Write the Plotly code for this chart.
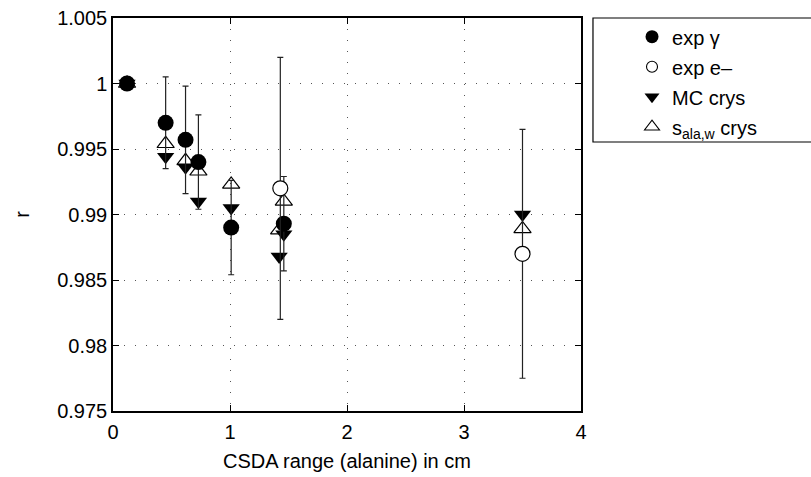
import plotly.graph_objects as go

# ---- data ----
x_gamma = [0.12, 0.45, 0.62, 0.73, 1.01, 1.46]
r_gamma = [1.0, 0.9970, 0.9957, 0.9940, 0.9890, 0.9893]
err_gamma = [0.0, 0.0035, 0.0041, 0.0036, 0.0036, 0.0036]

x_elec = [1.43, 3.50]
r_elec = [0.9920, 0.9870]
err_elec = [0.0100, 0.0095]

x_sim = [0.12, 0.45, 0.62, 0.73, 1.01, 1.42, 1.46, 3.50]
r_mc = [1.0, 0.9944, 0.9936, 0.9910, 0.9905, 0.9868, 0.9885, 0.9900]
r_sala = [1.0, 0.9954, 0.9941, 0.9933, 0.9923, 0.9888, 0.9910, 0.9889]

y_ticks = [0.975, 0.98, 0.985, 0.99, 0.995, 1.0, 1.005]
y_ticktext = ["0.975", "0.98", "0.985", "0.99", "0.995", "1", "1.005"]
x_ticks = [0, 1, 2, 3, 4]

names = ["exp γ", "exp e–", "MC crys", "s<sub>ala,w</sub> crys"]

FONT = "Liberation Sans, Arial, Helvetica, sans-serif"
FS = 20

fig = go.Figure()

fig.add_trace(go.Scatter(
    x=x_sim, y=r_sala, mode="markers", name=names[3], showlegend=False,
    marker=dict(symbol="triangle-up-open", size=15, color="black",
                line=dict(width=1.2, color="black")),
))
fig.add_trace(go.Scatter(
    x=x_sim, y=r_mc, mode="markers", name=names[2], showlegend=False,
    marker=dict(symbol="triangle-down", size=15, color="black",
                line=dict(width=0)),
))
fig.add_trace(go.Scatter(
    x=x_gamma, y=r_gamma, mode="markers", name=names[0], showlegend=False,
    error_y=dict(type="data", array=err_gamma, visible=True,
                 color="#222222", thickness=1.2, width=3),
    marker=dict(symbol="circle", size=16, color="black",
                line=dict(width=0)),
))
fig.add_trace(go.Scatter(
    x=x_elec, y=r_elec, mode="markers", name=names[1], showlegend=False,
    error_y=dict(type="data", array=err_elec, visible=True,
                 color="#222222", thickness=1.2, width=3),
    marker=dict(symbol="circle", size=15, color="white",
                line=dict(width=1.2, color="black")),
))

# legend entries (smaller symbols, as in the reference legend)
leg_markers = [
    dict(symbol="circle", size=13, color="black", line=dict(width=0)),
    dict(symbol="circle-open", size=11, color="black", line=dict(width=1.1)),
    dict(symbol="triangle-down", size=13, color="black", line=dict(width=0)),
    dict(symbol="triangle-up-open", size=13, color="black", line=dict(width=1.1)),
]
for i, (nm, mk) in enumerate(zip(names, leg_markers)):
    fig.add_trace(go.Scatter(x=[None], y=[None], mode="markers", name=nm,
                             marker=mk, legendrank=i + 1, legendgroup=str(i)))

# legend frame (extends beyond the right edge, as in the reference)
fig.add_shape(type="rect", xref="paper", yref="paper",
              x0=1.0256, x1=1.8, y0=0.6845, y1=1.0,
              line=dict(color="black", width=1.2), fillcolor="white", layer="below")

fig.update_layout(
    width=811, height=477,
    margin=dict(l=113, r=230, t=18, b=66),
    paper_bgcolor="white", plot_bgcolor="white",
    font=dict(family=FONT, size=FS, color="black"),
    showlegend=True,
    legend=dict(x=1.109, xanchor="left", y=1.002, yanchor="top",
                bgcolor="rgba(0,0,0,0)", borderwidth=0,
                font=dict(family=FONT, size=FS, color="black"),
                tracegroupgap=1),
    xaxis=dict(range=[0, 4], tickvals=x_ticks, ticks="inside", ticklen=6,
               tickcolor="black", showline=True, linecolor="black", linewidth=1.5,
               mirror="ticks", showgrid=True, gridcolor="#555555", gridwidth=1,
               griddash="1px,10px", zeroline=False, ticklabelstandoff=2,
               automargin=False,
               tickfont=dict(family=FONT, size=FS),
               title=dict(text="CSDA range (alanine) in cm", standoff=12,
                          font=dict(family=FONT, size=FS))),
    yaxis=dict(range=[0.975, 1.005], tickvals=y_ticks, ticktext=y_ticktext,
               ticks="inside", ticklen=6, tickcolor="black",
               showline=True, linecolor="black", linewidth=1.5, mirror="ticks",
               showgrid=True, gridcolor="#555555", gridwidth=1,
               griddash="1px,10px", zeroline=False, automargin=False,
               tickfont=dict(family=FONT, size=FS),
               title=dict(text="r", standoff=22,
                          font=dict(family=FONT, size=FS))),
)

fig.write_html("out.html")
